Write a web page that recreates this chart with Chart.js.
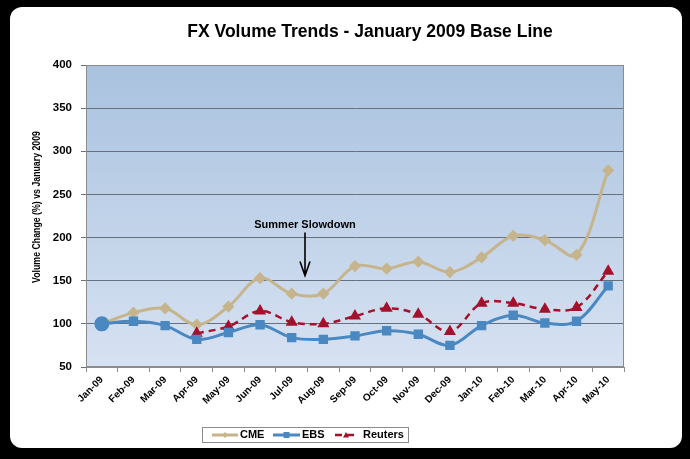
<!DOCTYPE html>
<html><head><meta charset="utf-8">
<script src="https://cdn.jsdelivr.net/npm/chart.js@4"></script>
<style>html,body{margin:0;padding:0;background:#000;overflow:hidden}canvas{display:block}</style>
</head><body>
<canvas id="c" width="690" height="459"></canvas>
<script>
const categories = ['Jan-09','Feb-09','Mar-09','Apr-09','May-09','Jun-09','Jul-09','Aug-09','Sep-09','Oct-09','Nov-09','Dec-09','Jan-10','Feb-10','Mar-10','Apr-10','May-10'];
const cmeValues = [100,113,118,99,120,153,135,135,167,164,172,160,177,202,197,180,278];
const ebsValues = [100,103,98,82,90,99,84,82,86,92,88,75,98,110,101,103,144];
const reutersValues = [null,null,null,89,97,115,102,100,109,118,111,91,124,124,117,119,161];
const yMin = 50, yMax = 400, yStep = 50;
const titleText = 'FX Volume Trends - January 2009 Base Line';
const yTitleText = 'Volume Change (%) vs January 2009';
const noteText = 'Summer Slowdown';
const noteIndex = 6.42, noteTextValue = 215, noteArrowFrom = 206, noteArrowTo = 156;

const CME_COLOR = '#c6b48c', EBS_COLOR = '#4a88c2', REU_COLOR = '#a3112c';
const FONT = '"Liberation Sans", Arial, sans-serif';

function marker(ctx, style, x, y, r, color){
  ctx.save(); ctx.fillStyle = color; ctx.beginPath();
  if(style==='rectRot'){ ctx.moveTo(x,y-r); ctx.lineTo(x+r,y); ctx.lineTo(x,y+r); ctx.lineTo(x-r,y); }
  else if(style==='rect'){ ctx.rect(x-r,y-r,2*r,2*r); }
  else if(style==='triangle'){ ctx.moveTo(x,y-r); ctx.lineTo(x+r,y+r*0.8); ctx.lineTo(x-r,y+r*0.8); }
  ctx.closePath(); ctx.fill(); ctx.restore();
}

const decor = {
  id:'decor',
  beforeDraw(chart){
    const {ctx, chartArea:a} = chart;
    ctx.save();
    ctx.fillStyle = '#000'; ctx.fillRect(0,0,chart.width,chart.height);
    ctx.fillStyle = '#fff';
    ctx.beginPath(); ctx.roundRect(10,7,672,441,12); ctx.fill();
    ctx.fillStyle = '#000'; ctx.font = 'bold 17.5px ' + FONT; ctx.textAlign = 'center'; ctx.textBaseline = 'middle';
    ctx.fillText(titleText, 370, 32);
    const g = ctx.createLinearGradient(0,a.top,0,a.bottom);
    g.addColorStop(0,'#a9c2df'); g.addColorStop(1,'#d7e2f2');
    ctx.fillStyle = g; ctx.fillRect(a.left,a.top,a.right-a.left,a.bottom-a.top);
    ctx.translate(37,207); ctx.rotate(-Math.PI/2);
    ctx.fillStyle = '#000'; ctx.font = 'bold 10px "Liberation Sans Narrow", ' + FONT;
    const w = ctx.measureText(yTitleText).width;
    if (w > 152) ctx.scale(152/w, 1);
    ctx.fillText(yTitleText, 0, 0);
    ctx.restore();
  },
  beforeDatasetsDraw(chart){
    const {ctx, chartArea:a} = chart;
    ctx.save(); ctx.strokeStyle = '#8c8c8c'; ctx.lineWidth = 1;
    ctx.strokeRect(a.left+0.5,a.top+0.5,a.right-a.left-1,a.bottom-a.top-1);
    ctx.restore();
  },
  afterDatasetsDraw(chart){
    const {ctx, scales:{x,y}} = chart;
    const px = x.getPixelForValue(noteIndex);
    ctx.save();
    ctx.fillStyle = '#000'; ctx.font = 'bold 11px ' + FONT; ctx.textAlign='center'; ctx.textBaseline='middle';
    ctx.fillText(noteText, px, y.getPixelForValue(noteTextValue));
    const y1 = y.getPixelForValue(noteArrowFrom), y2 = y.getPixelForValue(noteArrowTo);
    ctx.strokeStyle = '#000'; ctx.lineWidth = 1.6;
    ctx.beginPath(); ctx.moveTo(px,y1); ctx.lineTo(px,y2);
    ctx.moveTo(px-5,y2-14); ctx.lineTo(px,y2); ctx.lineTo(px+5,y2-14); ctx.stroke();
    ctx.restore();
  },
  afterDraw(chart){
    const ctx = chart.ctx;
    ctx.save();
    ctx.fillStyle = '#fff'; ctx.fillRect(202,427,206,15);
    ctx.strokeStyle = '#8c8c8c'; ctx.lineWidth = 1; ctx.strokeRect(202.5,427.5,206,15);
    const cy = 435;
    const items = chart.data.datasets.map((d,i)=>({d, x0:[212,273,335][i], x1:[238,300,357][i], tx:[240,302,363][i]}));
    ctx.font = 'bold 11px ' + FONT; ctx.textBaseline = 'middle'; ctx.textAlign='left';
    items.forEach(it=>{
      ctx.save();
      ctx.strokeStyle = it.d.borderColor; ctx.lineWidth = it.d.borderWidth;
      ctx.setLineDash(it.d.borderDash || []);
      ctx.beginPath(); ctx.moveTo(it.x0,cy); ctx.lineTo(it.x1,cy); ctx.stroke();
      ctx.restore();
      marker(ctx, it.d.legendStyle, (it.x0+it.x1)/2, cy, 3, it.d.borderColor);
      ctx.fillStyle = '#000'; ctx.fillText(it.d.label, it.tx, cy);
    });
    ctx.restore();
  }
};

new Chart(document.getElementById('c'), {
  type:'line',
  data:{
    labels: categories,
    datasets:[
      {label:'CME', data:cmeValues, order:2, borderColor:CME_COLOR, backgroundColor:CME_COLOR, borderWidth:3,
       pointStyle:'rectRot', pointRadius:4, tension:0.35, legendStyle:'rectRot'},
      {label:'EBS', data:ebsValues, order:0, borderColor:EBS_COLOR, backgroundColor:EBS_COLOR, borderWidth:3,
       pointStyle:(c)=>c.dataIndex===0?'circle':'rect', pointRadius:(c)=>c.dataIndex===0?6:4.5, tension:0.35, legendStyle:'rect'},
      {label:'Reuters', data:reutersValues, order:1, borderColor:REU_COLOR, backgroundColor:REU_COLOR, borderWidth:2.5,
       borderDash:[7,5], pointStyle:'triangle', pointRadius:4.5, tension:0.35, legendStyle:'triangle'}
    ]
  },
  options:{
    responsive:false, animation:false, devicePixelRatio:1,
    layout:{padding:{left:10,right:66,top:65,bottom:42}},
    plugins:{legend:{display:false}, title:{display:false}, tooltip:{enabled:false}},
    scales:{
      x:{
        offset:true,
        afterFit(s){ s.height = 50; },
        grid:{offset:true, drawOnChartArea:false, drawTicks:true, tickLength:5, color:'#8c8c8c'},
        border:{color:'#8c8c8c'},
        ticks:{autoSkip:false, maxRotation:45, minRotation:45, padding:2, color:'#000', font:{family:FONT, size:10, weight:'bold'}}
      },
      y:{
        min:yMin, max:yMax,
        afterFit(s){ s.width = 76; },
        grid:{color:'#66707e', tickLength:5, drawTicks:true},
        border:{color:'#8c8c8c'},
        ticks:{stepSize:yStep, padding:9, color:'#000', font:{family:FONT, size:11.5, weight:'bold'}}
      }
    }
  },
  plugins:[decor]
});
</script>
</body></html>
